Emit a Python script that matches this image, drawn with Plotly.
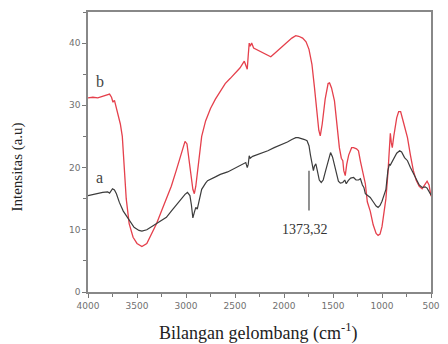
import plotly.graph_objects as go

# FTIR spectrum b (red)
wn_b = [4000, 3950, 3900, 3850, 3800, 3780, 3760, 3745, 3730, 3700, 3670, 3650, 3610, 3580,
        3540, 3500, 3450, 3400, 3350, 3300, 3250, 3200, 3150, 3100, 3050, 3010, 2990, 2960,
        2930, 2915, 2900, 2870, 2840, 2800, 2750, 2700, 2645, 2600, 2550, 2505, 2450, 2405,
        2390, 2375, 2365, 2355, 2345, 2330, 2310, 2285, 2250, 2200, 2135, 2100, 2050, 2000,
        1965, 1920, 1880, 1850, 1810, 1775, 1745, 1715, 1690, 1665, 1645, 1630, 1610, 1580,
        1550, 1535, 1515, 1485, 1460, 1435, 1415, 1400, 1390, 1375, 1360, 1340, 1310, 1290,
        1260, 1240, 1220, 1200, 1170, 1150, 1120, 1090, 1060, 1040, 1020, 1000, 980, 960,
        940, 925, 915, 905, 895, 880, 850, 830, 810, 790, 760, 740, 710, 680, 650, 620, 590,
        560, 540, 520, 505, 500]
int_b = [31.2, 31.3, 31.2, 31.4, 31.6, 31.8, 31.3, 30.5, 30.8, 29.0, 27.0, 25.0, 15.0, 11.0,
         8.8, 7.8, 7.3, 7.8, 9.3, 11.0, 13.0, 15.0, 17.0, 19.5, 22.0, 24.2, 23.8, 20.0,
         16.5, 15.8, 17.0, 21.0, 25.0, 27.5, 29.5, 31.0, 32.3, 33.5, 34.3, 35.0, 36.0, 37.1,
         36.5, 35.8, 38.0, 40.0, 39.5, 40.0, 39.2, 39.0, 38.6, 38.2, 37.8, 38.3, 39.0, 39.8,
         40.3, 40.8, 41.2, 41.1, 40.8, 40.2, 39.0, 36.6, 33.0, 29.1, 26.0, 25.1, 27.0, 31.0,
         33.5, 33.6, 32.8, 30.7, 27.0, 23.2, 21.5, 21.1, 19.5, 18.7, 20.5, 22.0, 23.2, 23.2,
         23.0, 22.7, 21.0, 19.5, 17.4, 14.5, 13.0, 10.8, 9.4, 9.1, 9.3, 10.5, 12.5, 15.0,
         19.0, 23.5, 25.5, 24.0, 23.2, 25.0, 28.0, 29.0, 29.0, 27.8, 25.8, 24.8, 22.0, 19.5,
         17.9, 17.0, 16.6, 17.3, 17.8, 17.2, 15.6, 15.4]

# FTIR spectrum a (dark)
wn_a = [4000, 3950, 3900, 3850, 3800, 3780, 3750, 3730, 3710, 3680, 3640, 3610, 3570, 3530,
        3480, 3450, 3400, 3350, 3300, 3250, 3200, 3150, 3100, 3050, 3010, 2985, 2960, 2945,
        2930, 2915, 2900, 2885, 2870, 2840, 2800, 2780, 2700, 2650, 2575, 2500, 2450, 2405,
        2390, 2375, 2365, 2355, 2345, 2320, 2250, 2200, 2165, 2100, 2050, 2000, 1965, 1920,
        1880, 1855, 1820, 1790, 1765, 1745, 1730, 1715, 1700, 1690, 1675, 1660, 1640, 1620,
        1600, 1575, 1545, 1525, 1505, 1485, 1465, 1445, 1425, 1400, 1380, 1365, 1345, 1320,
        1290, 1265, 1240, 1220, 1200, 1185, 1170, 1150, 1120, 1090, 1060, 1040, 1020, 1000,
        980, 960, 940, 925, 915, 900, 880, 850, 820, 800, 770, 740, 710, 680, 650, 620, 590,
        560, 540, 520, 500]
int_a = [15.5, 15.7, 15.8, 16.0, 16.1, 15.9, 16.6, 16.4, 15.8, 14.4, 13.0, 12.3, 11.3, 10.4,
         9.9, 9.8, 10.0, 10.5, 11.0, 11.5, 12.0, 13.0, 14.0, 15.0, 15.7, 16.0, 15.5, 14.0,
         11.9, 12.8, 13.6, 13.3, 14.5, 16.5, 17.5, 17.9, 18.5, 18.9, 19.3, 19.9, 20.3, 20.6,
         20.8, 20.0, 20.5, 21.9, 21.5, 21.8, 22.2, 22.5, 22.7, 23.2, 23.5, 23.9, 24.1, 24.5,
         24.8, 24.8, 24.7, 24.5, 24.3, 23.5, 22.0, 20.6, 19.5, 20.2, 20.6, 19.5, 18.0, 17.6,
         18.0, 19.5, 21.5, 22.4, 21.7, 20.3, 19.2, 17.8, 17.5, 17.6, 18.0, 17.4, 17.9, 18.3,
         18.4, 18.0, 18.0, 18.2, 17.2, 16.8, 15.8, 15.6, 15.2, 14.5, 13.8, 13.6, 13.9, 14.6,
         15.5, 16.5, 19.5, 20.5, 20.4, 20.8, 21.5, 22.3, 22.7, 22.5, 21.6, 21.1, 20.0, 19.0,
         18.2, 17.2, 16.8, 16.9, 16.7, 16.2, 15.6]

# Peak marker: vertical leader line and its label
peak_line_x = 1745
peak_line_y = [13.1, 19.5]
peak_label = "1373,32"
peak_label_pos = (1783, 10.1)

x_ticks = [4000, 3500, 3000, 2500, 2000, 1500, 1000, 500]
y_ticks = [0, 10, 20, 30, 40]

serif = "Liberation Serif, Times New Roman, serif"

fig = go.Figure()
fig.add_trace(go.Scatter(x=wn_b, y=int_b, mode="lines",
                         line=dict(color="#e5404c", width=1.3), showlegend=False))
fig.add_trace(go.Scatter(x=wn_a, y=int_a, mode="lines",
                         line=dict(color="#3c3c3c", width=1.2), showlegend=False))
fig.add_trace(go.Scatter(x=[peak_line_x, peak_line_x], y=peak_line_y, mode="lines",
                         line=dict(color="#555555", width=1.3), showlegend=False))

fig.add_annotation(x=peak_label_pos[0], y=peak_label_pos[1], text=peak_label,
                   showarrow=False, font=dict(family=serif, size=14, color="#333333"))
fig.add_annotation(x=3880, y=33.9, text="b", showarrow=False,
                   font=dict(family=serif, size=16, color="#444444"))
fig.add_annotation(x=3880, y=18.4, text="a", showarrow=False,
                   font=dict(family=serif, size=16, color="#444444"))

# Axis titles
fig.add_annotation(xref="paper", yref="paper", x=0.497, y=-0.143, xanchor="center",
                   yanchor="middle", showarrow=False,
                   text="Bilangan gelombang (cm<sup>-1</sup>)",
                   font=dict(family=serif, size=18, color="#222222"))
fig.add_annotation(xref="paper", yref="paper", x=-0.205, y=0.447, xanchor="center",
                   yanchor="middle", showarrow=False, textangle=-90,
                   text="Intensitas (a.u)",
                   font=dict(family=serif, size=15, color="#222222"))

fig.update_xaxes(range=[4000, 500], tickvals=x_ticks, ticks="outside", ticklen=4,
                 tickwidth=1, tickcolor="#777777", showline=True, linecolor="#888888",
                 linewidth=1.5, mirror=True, showgrid=False, zeroline=False,
                 tickfont=dict(family="DejaVu Sans", size=9, color="#707070"),
                 minor=dict(ticks="outside", ticklen=3, dtick=250, tickcolor="#777777"))
fig.update_yaxes(range=[0, 45], tickvals=y_ticks, ticks="outside", ticklen=4,
                 tickwidth=1, tickcolor="#777777", showline=True, linecolor="#888888",
                 linewidth=1.5, mirror=True, showgrid=False, zeroline=False,
                 tickfont=dict(family="DejaVu Sans", size=9, color="#707070"),
                 minor=dict(ticks="outside", ticklen=3, dtick=5, tickcolor="#777777"))

fig.update_layout(width=448, height=344, margin=dict(l=88, r=8, t=12, b=52),
                  paper_bgcolor="white", plot_bgcolor="white")

fig.write_html("out.html")
